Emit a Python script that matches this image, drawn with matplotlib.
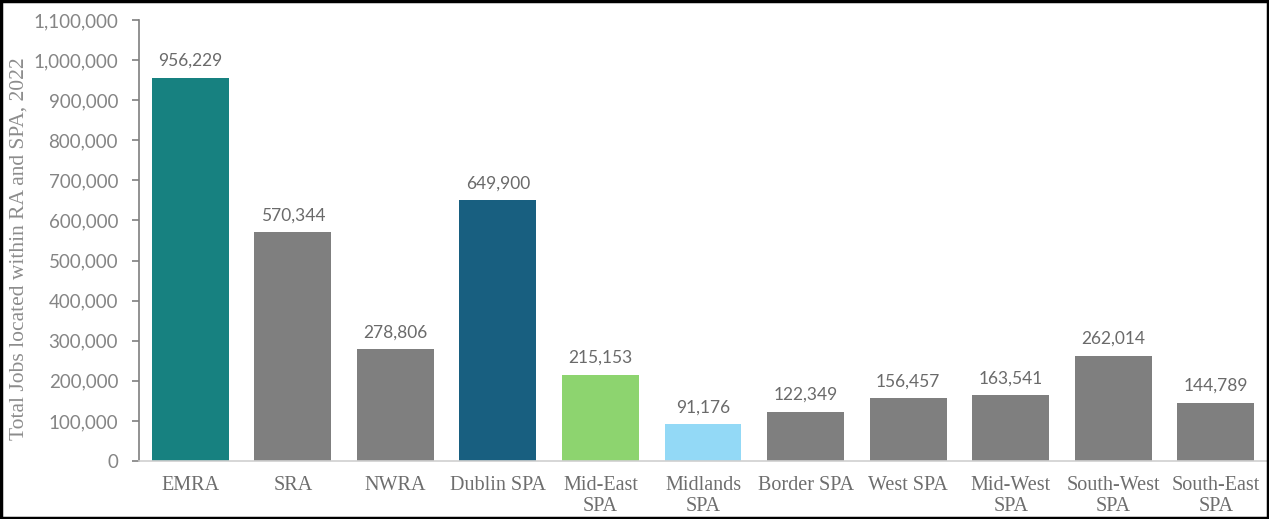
import matplotlib.pyplot as plt
from matplotlib.patches import Rectangle
from matplotlib.ticker import FuncFormatter

categories = ['EMRA', 'SRA', 'NWRA', 'Dublin SPA', 'Mid-East\nSPA', 'Midlands\nSPA',
              'Border SPA', 'West SPA', 'Mid-West\nSPA', 'South-West\nSPA', 'South-East\nSPA']
jobs = [956229, 570344, 278806, 649900, 215153, 91176, 122349, 156457, 163541, 262014, 144789]
colors = ['#178180', '#7f7f7f', '#7f7f7f', '#185f80', '#8dd46f', '#93d9f6',
          '#7f7f7f', '#7f7f7f', '#7f7f7f', '#7f7f7f', '#7f7f7f']

num_font = 'Lato'
lab_font = 'Liberation Serif'

fig = plt.figure(figsize=(12.69, 5.19), dpi=100)
ax = fig.add_axes([0.1095, 0.1118, 0.889, 0.8497])

x = range(len(categories))
bars = ax.bar(x, jobs, width=0.75, color=colors)

for b, v in zip(bars, jobs):
    ax.text(b.get_x() + b.get_width() / 2, v + 22000, f'{v:,}', ha='center', va='bottom',
            fontsize=12.5, color='#6a6a6a', family=num_font)

ax.set_xlim(-0.5, len(categories) - 0.5)
ax.set_ylim(0, 1100000)
ax.set_yticks(range(0, 1100001, 100000))
ax.yaxis.set_major_formatter(FuncFormatter(lambda v, p: f'{int(v):,}'))
ax.set_xticks(list(x))
ax.set_xticklabels(categories, family=lab_font, fontsize=14.5, color='#6e6e6e', linespacing=1.15)
for t in ax.get_yticklabels():
    t.set_family(num_font)
    t.set_fontsize(13.5)
    t.set_color('#858585')

ax.tick_params(axis='x', length=0, pad=11)
ax.tick_params(axis='y', length=5, width=1.2, color='#7f7f7f', pad=10)
ax.spines['top'].set_visible(False)
ax.spines['right'].set_visible(False)
ax.spines['left'].set_color('#7f7f7f')
ax.spines['left'].set_linewidth(1.2)
ax.spines['bottom'].set_color('#d0d0d0')
ax.spines['bottom'].set_linewidth(1.2)

fig.text(0.015, 0.52, 'Total Jobs located within RA and SPA, 2022', rotation=90,
         ha='center', va='center', fontsize=15.5, color='#8c8c8c', family=lab_font)

fig.patches.append(Rectangle((0.001, 0.002), 0.998, 0.996, transform=fig.transFigure,
                             fill=False, edgecolor='black', linewidth=2.5))

fig.savefig('out.png', dpi=100)
